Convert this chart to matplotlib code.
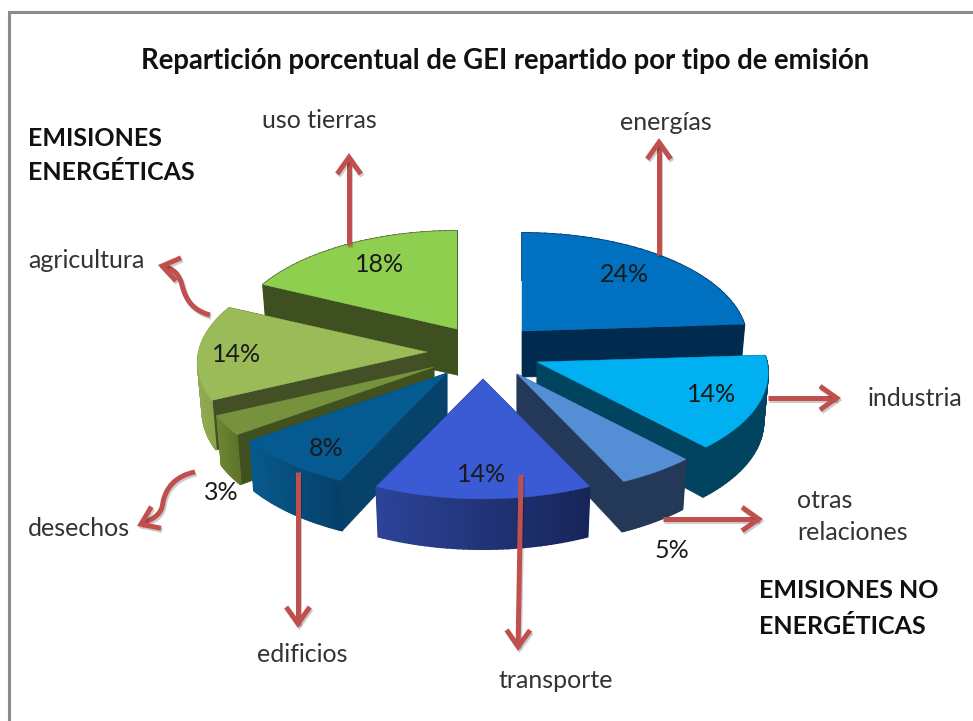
import numpy as np
import matplotlib
matplotlib.use("Agg")
import matplotlib.pyplot as plt
import matplotlib.patheffects as pe
from matplotlib.patches import FancyArrowPatch
from matplotlib.path import Path

plt.rcParams["font.family"] = ["Lato", "DejaVu Sans"]

# clockwise from 12 o'clock
names = ["energías", "industria", "otras relaciones", "transporte", "edificios", "desechos", "agricultura", "uso tierras"]
values = [24, 14, 5, 14, 8, 3, 14, 18]

top_colors = ["#0070C0", "#00B0F0", "#558ED5", "#3B5BD5", "#055A91", "#76923C", "#9BBB59", "#8FCF50"]
side_colors = ["#002A4E", "#00445F", "#243858", "#172558", "#07426A", "#40501F", "#434F25", "#3E5020"]
# outer wall gradient, left to right on screen
rim_left = ["#002A4E", "#00445F", "#243858", "#2C4398", "#075A8C", "#6B8432", "#8FAA50", "#3E5020"]
rim_right = ["#002A4E", "#00445F", "#243858", "#172558", "#063F68", "#5D7329", "#849E47", "#3E5020"]

# where each slice tip sits after exploding (pixels)
tips = [(522, 331), (537, 362), (517, 374), (483, 379), (447, 373), (434, 367), (427, 352), (457, 329)]
pct_pos = [(624, 275), (712, 395), (672, 550), (482, 475), (326, 449), (221, 493), (237, 354), (380, 265)]
draw_order = [7, 0, 6, 5, 4, 1, 2, 3]

RX, RY, PERSP, DEPTH = 230, 109, 0.1, 46


def top_pt(tip, a, r=1.0):
    s = 1 - PERSP * np.cos(a) * r
    sx = min(1, 1 + (tip[1] - 362) * 0.0008)  # slices further back look narrower
    return tip[0] + r * RX * sx * np.sin(a) * s, tip[1] - r * RY * np.cos(a) * s


def bottom_pt(tip, a, r=1.0):
    x, y = top_pt(tip, a, r)
    d = DEPTH * (1 - 0.08 * np.cos(a) * r) + 3 * r
    return tip[0] + (x - tip[0]) * 0.98, tip[1] + (y - tip[1]) * 0.98 + d


def draw_slice(ax, i, a0, a1):
    tip = tips[i]
    ang = np.linspace(a0, a1, 40)
    top = [top_pt(tip, a) for a in ang]
    bot = [bottom_pt(tip, a) for a in ang]
    base = (tip[0], tip[1] + DEPTH)

    # radial walls
    for a in (a0, a1):
        quad = [tip, top_pt(tip, a), bottom_pt(tip, a), base]
        ax.fill(*zip(*quad), color=side_colors[i], lw=0.5)

    # outer wall, shaded by screen x
    xs = np.array([p[0] for p in top])
    span = max(xs.max() - xs.min(), 1)
    c0 = np.array(matplotlib.colors.to_rgb(rim_left[i]))
    c1 = np.array(matplotlib.colors.to_rgb(rim_right[i]))
    for k in range(len(ang) - 1):
        t = (0.5 * (xs[k] + xs[k + 1]) - xs.min()) / span
        quad = [top[k], top[k + 1], bot[k + 1], bot[k]]
        ax.fill(*zip(*quad), color=c0 + (c1 - c0) * t, lw=1.2)

    ax.fill(*zip(*([tip] + top)), color=top_colors[i], lw=0.3)


def arrow(ax, verts, codes=None):
    path = Path(verts, codes) if codes else Path(verts)
    p = FancyArrowPatch(path=path, arrowstyle="->,head_length=12,head_width=8.5",
                        mutation_scale=1, color="#C0504D", lw=3.6, zorder=5,
                        capstyle="butt", joinstyle="miter")
    p.set_path_effects([pe.SimpleLineShadow(offset=(1, -1.5), alpha=0.2, shadow_color="k"), pe.Normal()])
    ax.add_patch(p)


def main():
    fig = plt.figure(figsize=(9.73, 7.21), dpi=100)
    ax = fig.add_axes([0, 0, 1, 1])
    ax.set_xlim(0, 973)
    ax.set_ylim(721, 0)
    ax.axis("off")

    # chart frame
    ax.plot([9, 9, 973], [721, 12, 12], color="#8C8C8C", lw=2.2, solid_joinstyle="miter")

    edges = np.cumsum([0] + values) / sum(values) * 2 * np.pi
    for i in draw_order:
        draw_slice(ax, i, edges[i], edges[i + 1])

    for i, v in enumerate(values):
        ax.text(*pct_pos[i], f"{v}%", fontsize=18, color="#1A1A1A", ha="center", va="center", zorder=6)

    # straight leaders
    arrow(ax, [(349, 245), (349, 153)])
    arrow(ax, [(659, 255), (659, 138)])
    arrow(ax, [(768, 398), (841, 398)])
    arrow(ax, [(663, 519), (763, 519)])
    arrow(ax, [(521, 475), (518, 651)])
    arrow(ax, [(298, 472), (298, 628)])
    # curved leaders
    c = [Path.MOVETO, Path.CURVE4, Path.CURVE4, Path.CURVE4, Path.CURVE4, Path.CURVE4, Path.CURVE4]
    arrow(ax, [(210, 315), (195, 311), (186, 302), (182, 285), (179, 273), (172, 268), (158, 265)], c)
    arrow(ax, [(195, 472), (175, 476), (166, 488), (163, 502), (162, 514), (155, 518), (137, 526)], c)

    title = "Repartición porcentual de GEI repartido por tipo de emisión"
    ax.text(505, 61, title, fontsize=19.8, fontweight="bold", color="#111111", ha="center", va="center")

    for x, y, s in [(28, 139, "EMISIONES"), (28, 173, "ENERGÉTICAS"),
                    (759, 591, "EMISIONES NO"), (759, 626, "ENERGÉTICAS")]:
        ax.text(x, y, s, fontsize=18, fontweight="bold", color="#111111", ha="left", va="center")

    label_color = "#333333"
    ax.text(319, 121, "uso tierras", fontsize=18, color=label_color, ha="center", va="center")
    ax.text(666, 123, "energías", fontsize=18, color=label_color, ha="center", va="center")
    ax.text(28, 260, "agricultura", fontsize=18, color=label_color, ha="left", va="center")
    ax.text(28, 528, "desechos", fontsize=18, color=label_color, ha="left", va="center")
    ax.text(302, 655, "edificios", fontsize=18, color=label_color, ha="center", va="center")
    ax.text(556, 680, "transporte", fontsize=18, color=label_color, ha="center", va="center")
    ax.text(868, 398, "industria", fontsize=18, color=label_color, ha="left", va="center")
    ax.text(797, 501, "otras", fontsize=18, color=label_color, ha="left", va="center")
    ax.text(797, 533, "relaciones", fontsize=18, color=label_color, ha="left", va="center")

    fig.savefig("out.png", dpi=100)


if __name__ == "__main__":
    main()
